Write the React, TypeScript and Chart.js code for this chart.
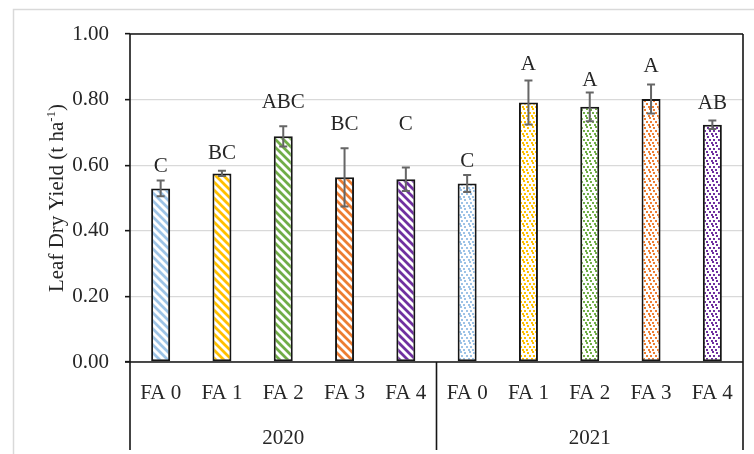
import React, { useEffect, useRef } from 'react';
import { Chart, registerables } from 'chart.js';

Chart.register(...registerables);

// Leaf dry yield (t ha-1) per fertiliser treatment and season
const years = ['2020', '2021'];
const treatments = ['FA 0', 'FA 1', 'FA 2', 'FA 3', 'FA 4'];
const yield2020 = [0.529, 0.575, 0.688, 0.563, 0.557];
const yield2021 = [0.544, 0.791, 0.778, 0.802, 0.723];
const err2020 = [0.024, 0.008, 0.031, 0.089, 0.036];
const err2021 = [0.026, 0.067, 0.044, 0.044, 0.013];
// Significance groups and the value at which each letter sits
const letters2020 = ['C', 'BC', 'ABC', 'BC', 'C'];
const letters2021 = ['C', 'A', 'A', 'A', 'AB'];
const letterAt2020 = [0.578, 0.62, 0.774, 0.706, 0.708];
const letterAt2021 = [0.593, 0.89, 0.842, 0.884, 0.771];
const yTicks = [0, 0.2, 0.4, 0.6, 0.8, 1.0];
const treatmentColors = ['#9DC3E6', '#FFC000', '#70AD47', '#ED7D31', '#7030A0'];

const FONT = '"Liberation Serif", "Times New Roman", serif';
const TEXT = '#262626';
const LINE = '#161616';

function stripePattern(ctx: CanvasRenderingContext2D, color: string) {
  const c = document.createElement('canvas');
  c.width = 8;
  c.height = 8;
  const g = c.getContext('2d')!;
  g.fillStyle = '#ffffff';
  g.fillRect(0, 0, 8, 8);
  g.strokeStyle = color;
  g.lineWidth = 2.8;
  g.beginPath();
  g.moveTo(-2, -2);
  g.lineTo(10, 10);
  g.moveTo(-2, 6);
  g.lineTo(2, 10);
  g.moveTo(6, -2);
  g.lineTo(10, 2);
  g.stroke();
  return ctx.createPattern(c, 'repeat')!;
}

function dotPattern(ctx: CanvasRenderingContext2D, color: string) {
  const c = document.createElement('canvas');
  c.width = 9;
  c.height = 9;
  const g = c.getContext('2d')!;
  g.fillStyle = '#ffffff';
  g.fillRect(0, 0, 9, 9);
  g.fillStyle = color;
  const dots = [
    [1, 0], [5, 1], [2, 4], [7, 4], [0, 7], [4, 7],
  ];
  dots.forEach(([x, y]) => g.fillRect(x, y, 2, 2));
  return ctx.createPattern(c, 'repeat')!;
}

const decor = {
  id: 'decor',
  beforeDraw(chart: any) {
    const { ctx } = chart;
    ctx.save();
    ctx.strokeStyle = '#d9d9d9';
    ctx.lineWidth = 1.5;
    ctx.strokeRect(13.5, 9.5, 900, 600);
    ctx.restore();
  },
  afterDatasetsDraw(chart: any) {
    const { ctx } = chart;
    const y = chart.scales.y;
    const bars = chart.getDatasetMeta(0).data;
    const values = [...yield2020, ...yield2021];
    const errs = [...err2020, ...err2021];
    const letters = [...letters2020, ...letters2021];
    const letterAt = [...letterAt2020, ...letterAt2021];
    ctx.save();
    bars.forEach((bar: any, i: number) => {
      const x = bar.x;
      const top = y.getPixelForValue(values[i] + errs[i]);
      const bot = y.getPixelForValue(values[i] - errs[i]);
      ctx.strokeStyle = '#666666';
      ctx.lineWidth = 2;
      ctx.beginPath();
      ctx.moveTo(x, top);
      ctx.lineTo(x, bot);
      ctx.moveTo(x - 4, top);
      ctx.lineTo(x + 4, top);
      ctx.moveTo(x - 4, bot);
      ctx.lineTo(x + 4, bot);
      ctx.stroke();

      ctx.fillStyle = TEXT;
      ctx.font = `21px ${FONT}`;
      ctx.textAlign = 'center';
      ctx.textBaseline = 'alphabetic';
      ctx.fillText(letters[i], x, y.getPixelForValue(letterAt[i]));
    });
    ctx.restore();
  },
  afterDraw(chart: any) {
    const { ctx, chartArea } = chart;
    const { left, right, top, bottom } = chartArea;
    const floor = 450;
    const mid = (left + right) / 2;
    const bars = chart.getDatasetMeta(0).data;
    ctx.save();
    ctx.strokeStyle = LINE;
    ctx.lineWidth = 1.6;
    ctx.beginPath();
    ctx.moveTo(left, top);
    ctx.lineTo(right, top);
    ctx.moveTo(left, top);
    ctx.lineTo(left, floor);
    ctx.moveTo(right, top);
    ctx.lineTo(right, floor);
    ctx.moveTo(left - 5, bottom);
    ctx.lineTo(right, bottom);
    ctx.moveTo(mid, bottom);
    ctx.lineTo(mid, floor);
    ctx.stroke();

    // category labels and season groups
    ctx.fillStyle = TEXT;
    ctx.font = `21px ${FONT}`;
    ctx.textAlign = 'center';
    ctx.textBaseline = 'alphabetic';
    bars.forEach((bar: any, i: number) => {
      ctx.fillText(treatments[i % treatments.length], bar.x, bottom + 37);
    });
    ctx.fillText(years[0], (left + mid) / 2, bottom + 82);
    ctx.fillText(years[1], (mid + right) / 2, bottom + 82);

    // y axis title with superscript unit
    const main = 'Leaf Dry Yield (t ha';
    const sup = '-1';
    const close = ')';
    ctx.translate(63, (top + bottom) / 2);
    ctx.rotate(-Math.PI / 2);
    ctx.textAlign = 'left';
    ctx.font = `21px ${FONT}`;
    const wMain = ctx.measureText(main).width;
    const wClose = ctx.measureText(close).width;
    ctx.font = `13px ${FONT}`;
    const wSup = ctx.measureText(sup).width;
    let x = -(wMain + wSup + wClose) / 2;
    ctx.font = `21px ${FONT}`;
    ctx.fillText(main, x, 0);
    x += wMain;
    ctx.font = `13px ${FONT}`;
    ctx.fillText(sup, x, -8);
    x += wSup;
    ctx.font = `21px ${FONT}`;
    ctx.fillText(close, x, 0);
    ctx.restore();
  },
};

export default function App() {
  const canvasRef = useRef<HTMLCanvasElement | null>(null);

  useEffect(() => {
    const canvas = canvasRef.current!;
    const ctx = canvas.getContext('2d')!;
    const labels = years.flatMap((yr) => treatments.map((t) => `${t} ${yr}`));
    const fills = [
      ...treatmentColors.map((c) => stripePattern(ctx, c)),
      ...treatmentColors.map((c) => dotPattern(ctx, c)),
    ];
    const chart = new Chart(canvas, {
      type: 'bar',
      data: {
        labels,
        datasets: [
          {
            data: [...yield2020, ...yield2021],
            backgroundColor: fills as any,
            borderColor: LINE,
            borderWidth: 2,
            borderSkipped: false,
            categoryPercentage: 1,
            barPercentage: 0.31,
          },
        ],
      },
      options: {
        responsive: false,
        animation: false,
        layout: { padding: { top: 34, right: 11, bottom: 0, left: 0 } },
        plugins: {
          legend: { display: false },
          tooltip: { enabled: false },
          title: { display: false },
        },
        scales: {
          x: {
            type: 'category',
            grid: { display: false, drawTicks: false },
            border: { display: false },
            ticks: { display: false },
            afterFit: (scale: any) => {
              scale.height = 92;
            },
          },
          y: {
            type: 'linear',
            min: 0,
            max: 1,
            afterBuildTicks: (scale: any) => {
              scale.ticks = yTicks.map((v) => ({ value: v }));
            },
            ticks: {
              padding: 16,
              color: TEXT,
              font: { family: FONT, size: 21 },
              callback: (v: any) => Number(v).toFixed(2),
            },
            grid: {
              color: '#d9d9d9',
              lineWidth: 1.3,
              tickLength: 5,
              tickColor: LINE,
              tickWidth: 1.6,
            },
            border: { display: false },
            afterFit: (scale: any) => {
              scale.width = 130;
            },
          },
        },
      },
      plugins: [decor],
    });
    return () => chart.destroy();
  }, []);

  return (
    <div style={{ position: 'absolute', left: 0, top: 0, width: 754, height: 454, background: '#fff' }}>
      <canvas ref={canvasRef} width={754} height={454} />
    </div>
  );
}
